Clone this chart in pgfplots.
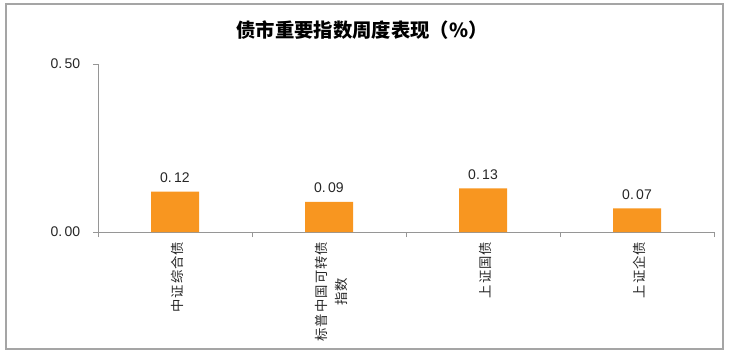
\documentclass[border=0pt]{standalone}
\usepackage{pgfplots}
\pgfplotsset{compat=1.18}
\usepackage{fontspec}
\setmainfont{Liberation Sans}
\newfontfamily\cjk{Noto Sans CJK SC}
\newfontfamily\cjksp[LetterSpace=8]{Noto Sans CJK SC}
\definecolor{barorange}{RGB}{248,150,32}
\definecolor{axgray}{RGB}{150,150,150}
\begin{document}
\begin{tikzpicture}[x=0.75pt,y=0.75pt]
\useasboundingbox (0,0) rectangle (730,358);
\draw[color={rgb,255:red,165;green,165;blue,165},line width=0.8pt] (6,9) rectangle (723,354);
\node[font=\cjk\bfseries\fontsize{14.5}{16}\selectfont] at (362,328) {债市重要指数周度表现（\%）};
\begin{axis}[
  at={(73.5pt,94.5pt)}, anchor=south west,
  scale only axis, width=462pt, height=126pt,
  xmin=-0.5, xmax=3.5, ymin=0, ymax=0.5,
  axis x line=bottom, axis y line=left,
  axis line style={-, draw=axgray, line width=0.6pt},
  ybar, bar width=36pt,
  xtick={0,1,2,3},
  xticklabels={中证综合债,{标普中国可转债\\指数},上证国债,上证企债},
  minor xtick={-0.5,0.5,1.5,2.5,3.5},
  major x tick style={draw=none},
  minor tick length=3.75pt,
  major tick length=3.75pt,
  tick align=outside,
  tick style={draw=axgray, line width=0.6pt},
  xticklabel style={rotate=90, anchor=east, align=center, font=\cjksp\fontsize{10}{15}\selectfont, text=black!85, yshift=-2pt},
  ytick={0,0.5},
  yticklabels={0.\,00,0.\,50},
  yticklabel style={font=\fontsize{10.5}{12}\selectfont, text=black!85, xshift=-6pt},
  nodes near coords,
  point meta=explicit symbolic,
  nodes near coords style={font=\fontsize{10.5}{12}\selectfont, text=black!85, yshift=3pt},
  clip=false,
]
\addplot[fill=barorange, draw=none] coordinates {
  (0,0.12) [0.\,12]
  (1,0.09) [0.\,09]
  (2,0.13) [0.\,13]
  (3,0.07) [0.\,07]
};
\end{axis}
\end{tikzpicture}
\end{document}
